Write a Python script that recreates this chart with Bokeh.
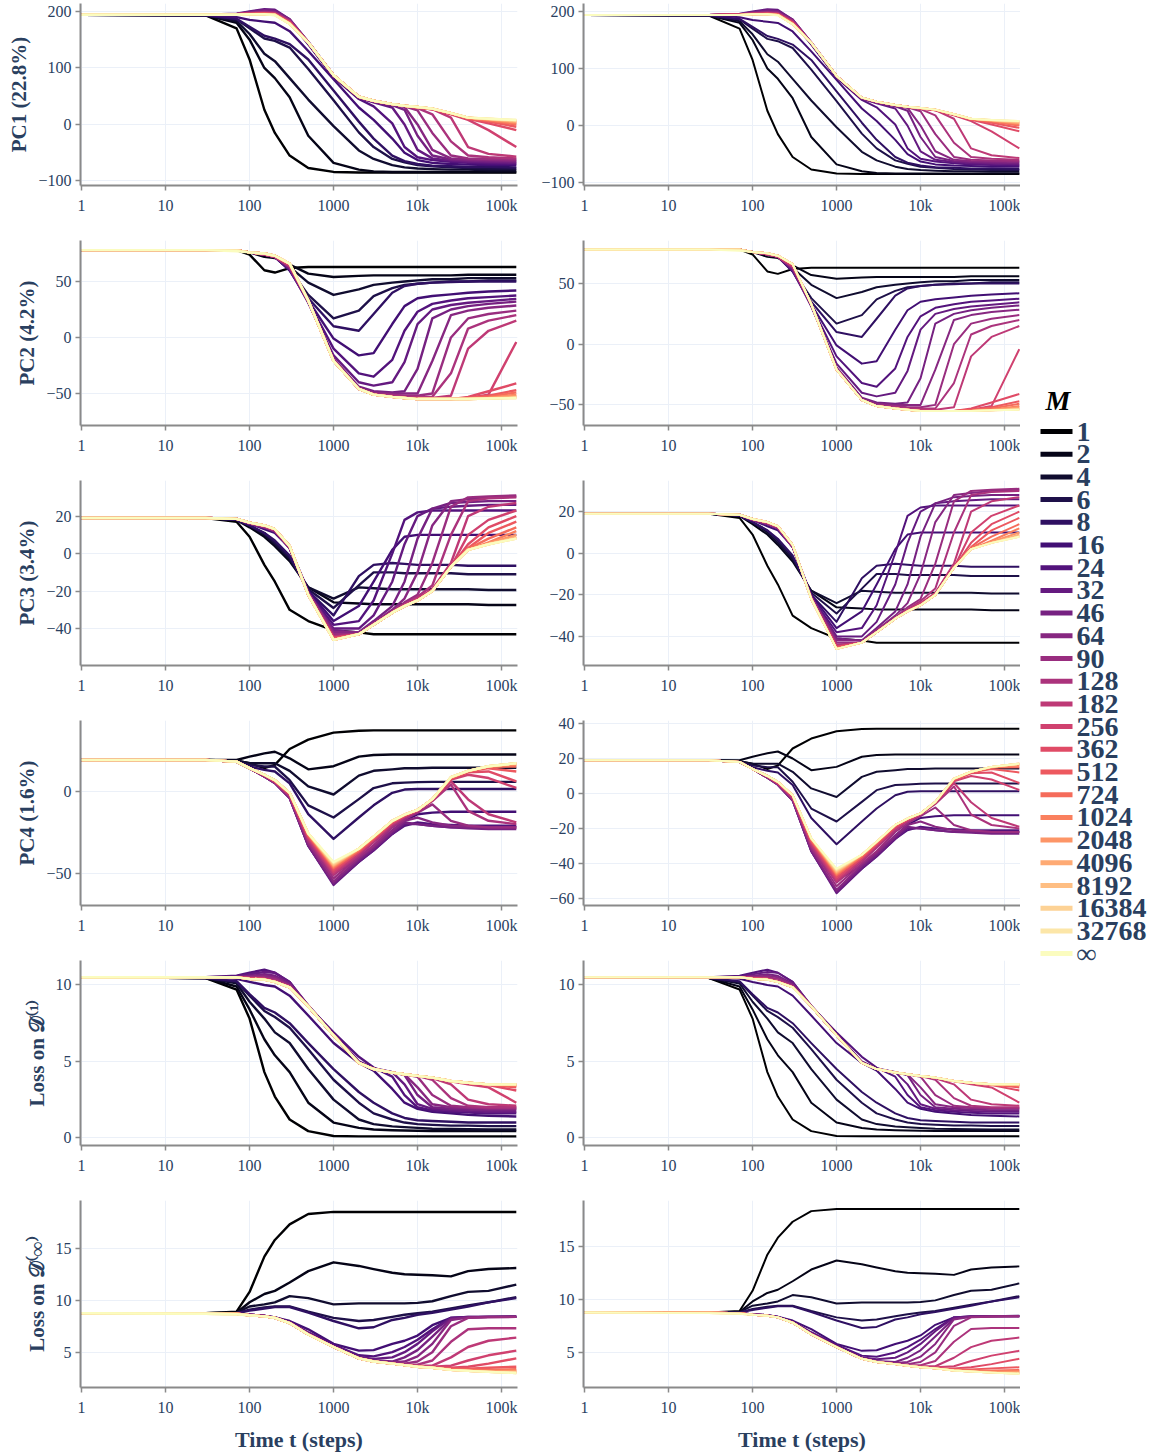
from bokeh.plotting import figure
from bokeh.models import Range1d, FixedTicker, CustomJSTickFormatter
from bokeh.layouts import row, column
from bokeh.palettes import magma
from bokeh.core.properties import value
from bokeh.embed import file_html
from bokeh.resources import INLINE

M_LABELS = ["1", "2", "4", "6", "8", "16", "24", "32", "46", "64", "90", "128", "182", "256",
            "362", "512", "724", "1024", "2048", "4096", "8192", "16384", "32768", "∞"]
TIMES = [1, 30, 70, 100, 150, 200, 300, 500, 1000, 2000, 3000, 5000, 7000, 10000, 15000,
         25000, 40000, 70000, 150000]

pc1 = [
    [194, 193, 170, 115, 26, -15, -55, -77, -84, -85, -85, -85, -85, -85, -85, -85, -85, -85, -85],
    [194, 193, 180, 150, 100, 82, 48, -20, -68, -80, -83, -84, -84, -84, -84, -84, -84, -84, -84],
    [194, 193, 183, 160, 125, 112, 82, 44, -3, -46, -61, -72, -76, -78, -79, -80, -80, -81, -81],
    [194, 193, 186, 170, 152, 148, 136, 98, 43, -14, -40, -61, -67, -72, -74, -76, -77, -78, -78],
    [194, 193, 187, 173, 157, 152, 142, 115, 60, 5, -25, -55, -65, -70, -73, -74, -75, -75, -76],
    [194, 194, 190, 185, 182, 180, 165, 130, 80, 30, 8, -25, -50, -63, -68, -70, -71, -72, -72],
    [194, 194, 195, 198, 202, 200, 182, 142, 84, 45, 32, 2, -40, -58, -63, -66, -68, -69, -70],
    [194, 194, 196, 200, 204, 203, 186, 146, 86, 47, 39, 30, 0, -45, -60, -64, -66, -67, -68],
    [194, 194, 195, 199, 202, 201, 186, 146, 87, 48, 40, 34, 26, -20, -55, -62, -64, -65, -66],
    [194, 194, 195, 198, 200, 199, 185, 146, 87, 48, 41, 35, 31, 0, -45, -60, -62, -63, -64],
    [194, 194, 195, 197, 199, 198, 184, 145, 87, 48, 41, 35, 32, 25, -15, -55, -60, -61, -62],
    [194, 194, 195, 197, 198, 197, 183, 145, 87, 49, 42, 36, 33, 29, 18, -30, -55, -58, -60],
    [194, 194, 195, 196, 197, 196, 182, 145, 87, 49, 42, 36, 33, 30, 27, 12, -40, -52, -57],
    [194, 194, 195, 196, 197, 196, 181, 145, 87, 49, 42, 36, 33, 30, 27, 18, 8, -10, -40],
    [194, 194, 195, 196, 196, 195, 180, 145, 87, 49, 42, 36, 33, 30, 27, 19, 10, 2, -10],
    [194, 194, 194, 195, 196, 195, 180, 145, 87, 49, 42, 36, 33, 30, 28, 19, 11, 5, -4],
    [194, 194, 194, 195, 196, 195, 179, 145, 87, 49, 42, 36, 33, 31, 28, 20, 11, 7, 0],
    [194, 194, 194, 195, 195, 194, 179, 145, 87, 49, 42, 36, 33, 31, 28, 20, 12, 8, 2],
    [194, 194, 194, 195, 195, 194, 178, 145, 87, 49, 42, 36, 33, 31, 28, 20, 12, 9, 4],
    [194, 194, 194, 195, 195, 194, 178, 145, 87, 49, 42, 36, 33, 31, 28, 20, 12, 9, 5],
    [194, 194, 194, 195, 195, 194, 178, 145, 87, 49, 42, 36, 33, 31, 28, 20, 12, 9.5, 6],
    [194, 194, 194, 195, 195, 194, 178, 145, 87, 49, 42, 36, 33, 31, 28, 20, 12, 10, 7],
    [194, 194, 194, 195, 195, 194, 178, 145, 87, 49, 42, 36, 33, 31, 28, 20, 12, 10, 8],
    [194, 194, 194, 195, 195, 193, 178, 145, 87, 49, 42, 36, 33, 31, 28, 20, 12, 10, 8],
]

pc2 = [
    [78, 78, 78, 74, 60, 58, 62, 63, 63, 63, 63, 63, 63, 63, 63, 63, 63, 63, 63],
    [78, 78, 78, 76, 72, 71, 65, 57, 54, 55, 55.5, 55.5, 55.5, 55.5, 55.5, 55.5, 56, 56, 56],
    [78, 78, 78, 76, 74, 72, 63, 49, 38, 43, 47, 49, 50, 51, 52, 52, 53, 53, 53],
    [78, 78, 78, 76, 74, 72, 61, 38, 17, 24, 37, 44, 47, 48, 49, 50, 50, 51, 51],
    [78, 78, 78, 76, 74, 72, 60, 35, 10, 6, 21, 40, 46, 48, 49, 49.5, 50, 50, 50],
    [78, 78, 78, 76, 74, 72, 60, 33, -1, -16, -14, 12, 28, 35, 37, 38.5, 40, 41, 42],
    [78, 78, 78, 76, 74, 72, 61, 32, -10, -32, -35, -20, 6, 23, 30, 33, 35, 36, 37.5],
    [78, 78, 78, 76, 74, 72, 61, 31, -16, -40, -43, -40, -22, 12, 25, 29, 31, 32.5, 34.5],
    [78, 78, 78, 76, 74, 72, 62, 32, -19, -44, -48, -49, -48, -28, 17, 25, 28, 30, 32],
    [78, 78, 78, 76, 74, 72, 63, 32, -20, -45, -49, -50, -50, -50, -21, 20, 24, 26.5, 28.5],
    [78, 78, 78, 76, 74, 72, 63, 33, -20, -46, -50, -51, -52, -52, -50, 0, 17, 21, 24],
    [78, 78, 78, 76, 74, 72, 64, 33, -20, -46, -51, -52, -53, -53, -53, -32, 8, 15, 20],
    [78, 78, 78, 76, 74, 72, 64, 33, -21, -46, -51, -53, -54, -54, -54, -52, -10, 6, 15],
    [78, 78, 78, 76, 75, 73, 65, 33, -21, -46, -51, -53, -54, -55, -55, -55, -54, -51, -4],
    [78, 78, 78, 76, 75, 73, 65, 33, -21, -46, -51, -53, -54, -55, -55, -55, -53, -48, -41],
    [78, 78, 78, 76, 75, 73, 66, 33, -21, -46, -51, -53, -54, -55, -55, -55, -54, -52, -47],
    [78, 78, 78, 76, 75, 73, 66, 33, -21, -46, -51, -53, -54, -55, -55, -55, -54.5, -53, -49],
    [78, 78, 78, 76, 75, 73, 66, 33, -21, -46, -51, -53, -54, -55, -55, -55, -55, -54, -51],
    [78, 78, 78, 76, 75, 73, 66, 33, -21, -46, -51, -53, -54, -55, -55, -55, -55, -54, -52],
    [78, 78, 78, 76, 75, 73, 66, 33, -21, -46, -51, -53, -54, -55, -55, -55, -55, -54.5, -53],
    [78, 78, 78, 76, 75, 73, 66, 33, -21, -46, -51, -53, -54, -55, -55, -55, -55, -54.5, -53.5],
    [78, 78, 78, 76, 75, 73, 66, 33, -21, -46, -51, -53, -54, -55, -55, -55, -55, -54.5, -54],
    [78, 78, 78, 76, 75, 73, 66, 33, -21, -46, -51, -53, -54, -55, -55, -55, -55, -54.5, -54],
    [78, 78, 77, 76, 75, 73, 66, 33, -21, -46, -51, -53, -54, -55, -55, -55, -55, -54.5, -54],
]

pc3 = [
    [19, 19, 17, 9, -6, -15, -30, -36, -41, -42, -43, -43, -43, -43, -43, -43, -43, -43, -43],
    [19, 19, 18, 14, 9, 4, -4, -18, -26, -26.6, -27, -27, -27, -27, -27, -27, -27, -27.4, -27.4],
    [19, 19, 18, 15, 10, 5, -3, -18, -24, -18, -18.5, -19, -19, -19, -19, -19, -19, -19.4, -19.4],
    [19, 19, 18, 15, 11, 6, -2, -19, -29, -17, -10, -10, -10.5, -10.5, -10.5, -10.5, -11, -11, -11],
    [19, 19, 18, 15, 11, 7, -1, -20, -33, -12, -6, -5, -5.5, -6, -6, -6, -6.5, -6.5, -6.5],
    [19, 19, 18.5, 16, 13, 11, 3, -20, -36, -28, -15, 2, 9, 10, 10, 10, 10, 10, 10],
    [19, 19, 18.5, 16, 14, 12, 3, -21, -38, -36, -25, 0, 18, 22, 23, 23, 23, 23, 23],
    [19, 19, 18.5, 16, 14, 12, 3, -21, -40, -40, -33, -15, 5, 20, 24, 25, 25.5, 26, 26],
    [19, 19, 18.5, 16, 14, 12, 3, -21, -41, -42, -36, -28, -15, 8, 24, 27, 27.5, 28, 28],
    [19, 19, 18.5, 16, 14, 12, 3, -21, -42, -42, -37, -30, -24, -10, 15, 28, 29, 30, 30.5],
    [19, 19, 18.5, 16.5, 14.5, 12.5, 3.5, -21, -43, -43, -37, -31, -26, -22, -5, 25, 30, 30.5, 31],
    [19, 19, 18.5, 16.5, 14.5, 12.5, 3.5, -22, -44, -43, -38, -31, -27, -23, -17, 10, 28, 29.5, 30],
    [19, 19, 18.5, 16.5, 14.5, 12.5, 3.5, -22, -44.5, -43, -38, -31.5, -27.5, -24, -19, -5, 20, 25, 27],
    [19, 19, 18.5, 16.5, 15, 13, 4, -22, -45, -43, -38, -31.5, -28, -24.5, -19.5, -7, 10, 18, 23],
    [19, 19, 18.5, 16.5, 15, 13, 4, -22, -45, -43, -38, -31.5, -28, -25, -20, -7, 5, 14, 20],
    [19, 19, 18.5, 16.5, 15, 13, 4, -22, -45.5, -43, -38, -31.5, -28, -25, -20, -7, 3, 11, 17],
    [19, 19, 18.5, 16.5, 15, 13, 4, -22, -46, -43, -38, -31.5, -28, -25, -20, -7, 2.5, 8, 14],
    [19, 19, 18.5, 16.5, 15, 13, 4, -22, -46, -43, -38, -31.5, -28, -25, -20, -7, 2, 6, 12],
    [19, 19, 18.5, 16.5, 15, 13, 4, -22, -46, -43, -38, -31.5, -28, -25, -20, -7, 2, 5.5, 10],
    [19, 19, 18.5, 16.5, 15, 13, 4, -22, -46, -43, -38, -31.5, -28, -25, -20, -7, 2, 5, 9],
    [19, 19, 18.5, 16.5, 15, 13, 4, -22, -46, -43, -38, -31.5, -28, -25, -20, -7, 2, 5, 8.5],
    [19, 19, 18.5, 16.5, 15, 13, 4, -22, -46, -43, -38, -31.5, -28, -25, -20, -7, 2, 5, 8],
    [19, 19, 18.5, 16.5, 15, 13, 4, -22, -46, -43, -38, -31.5, -28, -25, -20, -7, 2, 5, 8],
    [19, 19, 18.5, 16.5, 15, 13, 4, -22, -46, -43, -38, -31.5, -28, -25, -20, -7, 2, 5, 8],
]

pc4 = [
    [19, 19, 18.5, 17, 14, 16, 25.7, 31.4, 35.6, 36.8, 37, 37, 37, 37, 37, 37, 37, 37, 37],
    [19, 19, 19, 21, 23, 24, 20, 13.3, 15.2, 21, 22, 22.3, 22.3, 22.3, 22.3, 22.3, 22.3, 22.3, 22.3],
    [19, 19, 18.5, 17, 17, 17, 12.4, 2.9, -2, 9.5, 12.4, 13.3, 14, 14, 14.3, 14.3, 14.3, 14.3, 14.3],
    [19, 19, 18, 16, 15, 15, 6.7, -8.6, -16, -4.8, 1.9, 4.8, 5.2, 5.5, 5.7, 5.7, 5.7, 5.7, 5.7],
    [19, 19, 18, 15, 13, 12, 4.8, -14, -29, -16, -8.6, -1, 1, 1.3, 1.3, 1.3, 1.3, 1.3, 1.3],
    [19, 19, 18, 14, 9, 6, -3, -32, -50, -41, -34, -24, -18, -14, -13, -12.5, -12.5, -12.5, -12.5],
    [19, 19, 18, 14, 9, 5, -4, -33, -56, -43, -36, -26, -21, -19, -20, -20.5, -21, -21, -21],
    [19, 19, 18, 14, 9, 5, -4, -33, -57, -43, -36, -26, -20, -20, -21, -22, -22, -22, -22],
    [19, 19, 18, 14, 9, 5, -4, -33, -56, -42, -35, -25, -19, -20, -21, -22, -22.5, -23, -23],
    [19, 19, 18, 14, 9, 5, -4, -32, -55, -41, -34, -24, -18, -16, -19, -21, -21.5, -22, -22],
    [19, 19, 18, 14, 9.5, 5.5, -3, -31, -53, -40, -33, -22, -17, -13, -8, -18, -21, -22, -22],
    [19, 19, 18, 14, 9.5, 5.5, -3, -30, -51, -39, -31, -21, -16, -12, -6, 4, -12, -18, -20],
    [19, 19, 18, 14, 9.5, 6, -2, -29, -50, -38, -30, -20, -15.5, -12, -5.5, 6, -5, -14, -19],
    [19, 19, 18, 14, 10, 6, -2, -28, -49, -37, -29.5, -19.5, -15, -11.5, -5, 7, 10, 8, 2],
    [19, 19, 18, 14, 10, 6, -1.5, -27.5, -48, -37, -29, -19, -15, -11.5, -5, 7.5, 11.5, 12, 6],
    [19, 19, 18, 14, 10, 6.5, -1.5, -27, -47, -36, -28.5, -18.5, -14.5, -11.5, -5, 8, 12, 14, 12],
    [19, 19, 18, 14, 10, 6.5, -1, -26.5, -46.5, -36, -28, -18.3, -14.4, -11.4, -5, 8, 12.2, 14.8, 15],
    [19, 19, 18, 14, 10, 6.7, -1, -26, -46, -35.5, -28, -18, -14.3, -11.4, -4.8, 8.3, 12.3, 15, 16],
    [19, 19, 18, 14, 10, 6.7, -1, -26, -45.5, -35, -27.8, -18, -14.3, -11.4, -4.8, 8.4, 12.4, 15.1, 16.5],
    [19, 19, 18, 14, 10, 6.7, -1, -25.8, -45, -35, -27.6, -18, -14.3, -11.4, -4.8, 8.5, 12.4, 15.2, 17],
    [19, 19, 18, 14, 10, 6.7, -1, -25.7, -44.5, -35, -27.6, -18, -14.3, -11.4, -4.8, 8.5, 12.4, 15.2, 17],
    [19, 19, 18, 14, 10, 6.7, -1, -25.7, -44, -35, -27.6, -18, -14.3, -11.4, -4.8, 8.5, 12.4, 15.2, 17],
    [19, 19, 18, 14, 10, 6.7, -1, -25.7, -43.5, -35, -27.6, -18, -14.3, -11.4, -4.8, 8.5, 12.4, 15.2, 17],
    [19, 19, 18, 14, 10, 6.7, -1, -25.7, -43, -35, -27.6, -18, -14.3, -11.4, -4.8, 8.5, 12.4, 15.2, 17],
]

loss_d1 = [
    [10.5, 10.45, 9.7, 7.8, 4.3, 2.7, 1.2, 0.44, 0.12, 0.1, 0.1, 0.1, 0.1, 0.1, 0.1, 0.1, 0.1, 0.1, 0.1],
    [10.5, 10.45, 9.9, 8.4, 6.45, 5.4, 4.3, 2.3, 1.0, 0.65, 0.55, 0.5, 0.48, 0.46, 0.45, 0.45, 0.45, 0.45, 0.45],
    [10.5, 10.45, 10.1, 8.9, 7.8, 6.9, 6.2, 4.5, 2.5, 1.2, 0.9, 0.75, 0.7, 0.65, 0.6, 0.58, 0.56, 0.55, 0.55],
    [10.5, 10.45, 10.2, 9.3, 8.3, 7.9, 7.2, 5.8, 3.8, 2.3, 1.6, 1.2, 1.0, 0.9, 0.85, 0.8, 0.8, 0.77, 0.77],
    [10.5, 10.45, 10.25, 9.4, 8.5, 8.2, 7.5, 6.2, 4.5, 3.0, 2.3, 1.6, 1.3, 1.15, 1.1, 1.05, 1.0, 1.0, 1.0],
    [10.5, 10.5, 10.4, 10.2, 10.0, 9.9, 9.3, 8.0, 6.2, 4.9, 4.4, 3.2, 2.3, 1.9, 1.7, 1.6, 1.5, 1.45, 1.4],
    [10.5, 10.5, 10.6, 10.8, 11.0, 10.8, 10.2, 8.6, 6.9, 5.3, 4.6, 4.0, 2.8, 2.0, 1.8, 1.7, 1.65, 1.6, 1.6],
    [10.5, 10.5, 10.55, 10.7, 10.85, 10.8, 10.2, 8.65, 6.8, 5.0, 4.55, 4.3, 3.5, 2.2, 1.9, 1.8, 1.75, 1.7, 1.7],
    [10.5, 10.5, 10.5, 10.6, 10.7, 10.6, 10.1, 8.65, 6.75, 4.95, 4.5, 4.3, 4.1, 2.8, 2.0, 1.9, 1.85, 1.8, 1.8],
    [10.5, 10.5, 10.5, 10.55, 10.6, 10.5, 10.0, 8.6, 6.7, 4.9, 4.5, 4.27, 4.15, 3.3, 2.2, 2.0, 1.95, 1.9, 1.9],
    [10.5, 10.5, 10.5, 10.5, 10.5, 10.4, 9.95, 8.6, 6.7, 4.9, 4.5, 4.27, 4.16, 4.0, 2.8, 2.1, 2.0, 1.95, 1.95],
    [10.5, 10.5, 10.5, 10.45, 10.4, 10.3, 9.9, 8.6, 6.7, 4.9, 4.5, 4.27, 4.16, 4.05, 3.8, 2.6, 2.1, 2.0, 2.0],
    [10.5, 10.5, 10.5, 10.45, 10.4, 10.25, 9.9, 8.6, 6.7, 4.9, 4.5, 4.27, 4.16, 4.05, 3.9, 3.5, 2.5, 2.2, 2.1],
    [10.5, 10.5, 10.5, 10.45, 10.4, 10.2, 9.85, 8.6, 6.7, 4.9, 4.5, 4.27, 4.16, 4.05, 3.94, 3.7, 3.5, 3.3, 2.3],
    [10.5, 10.5, 10.5, 10.45, 10.4, 10.2, 9.85, 8.6, 6.7, 4.9, 4.5, 4.27, 4.16, 4.05, 3.94, 3.72, 3.6, 3.45, 3.1],
    [10.5, 10.5, 10.5, 10.4, 10.35, 10.2, 9.85, 8.6, 6.7, 4.9, 4.5, 4.27, 4.16, 4.05, 3.94, 3.72, 3.6, 3.48, 3.3],
    [10.5, 10.5, 10.5, 10.4, 10.35, 10.2, 9.85, 8.6, 6.7, 4.9, 4.5, 4.27, 4.16, 4.05, 3.94, 3.72, 3.6, 3.5, 3.4],
    [10.5, 10.5, 10.5, 10.4, 10.35, 10.2, 9.85, 8.6, 6.7, 4.9, 4.5, 4.27, 4.16, 4.05, 3.94, 3.72, 3.6, 3.5, 3.45],
    [10.5, 10.5, 10.5, 10.4, 10.35, 10.2, 9.85, 8.6, 6.7, 4.9, 4.5, 4.27, 4.16, 4.05, 3.94, 3.72, 3.6, 3.5, 3.47],
    [10.5, 10.5, 10.5, 10.4, 10.35, 10.2, 9.85, 8.6, 6.7, 4.9, 4.5, 4.27, 4.16, 4.05, 3.94, 3.72, 3.6, 3.5, 3.5],
    [10.5, 10.5, 10.5, 10.4, 10.35, 10.2, 9.85, 8.6, 6.7, 4.9, 4.5, 4.27, 4.16, 4.05, 3.94, 3.72, 3.6, 3.5, 3.5],
    [10.5, 10.5, 10.5, 10.4, 10.35, 10.2, 9.85, 8.6, 6.7, 4.9, 4.5, 4.27, 4.16, 4.05, 3.94, 3.72, 3.6, 3.5, 3.5],
    [10.5, 10.5, 10.5, 10.4, 10.35, 10.2, 9.85, 8.6, 6.7, 4.9, 4.5, 4.27, 4.16, 4.05, 3.94, 3.72, 3.6, 3.5, 3.5],
    [10.5, 10.5, 10.5, 10.4, 10.35, 10.2, 9.85, 8.6, 6.7, 4.9, 4.5, 4.27, 4.16, 4.05, 3.94, 3.72, 3.6, 3.5, 3.5],
]

loss_dinf = [
    [8.75, 8.75, 8.9, 10.8, 14.2, 15.8, 17.3, 18.3, 18.5, 18.5, 18.5, 18.5, 18.5, 18.5, 18.5, 18.5, 18.5, 18.5, 18.5],
    [8.75, 8.75, 8.8, 9.8, 10.6, 10.9, 11.7, 12.8, 13.65, 13.3, 13.0, 12.65, 12.5, 12.45, 12.4, 12.3, 12.8, 13.0, 13.1],
    [8.75, 8.75, 8.8, 9.4, 9.6, 9.8, 10.4, 10.2, 9.6, 9.7, 9.7, 9.7, 9.7, 9.75, 9.9, 10.4, 10.8, 10.9, 11.5],
    [8.75, 8.75, 8.75, 9.1, 9.3, 9.4, 9.4, 8.9, 8.3, 8.0, 8.1, 8.4, 8.6, 8.75, 8.9, 9.2, 9.5, 9.8, 10.3],
    [8.75, 8.75, 8.75, 9.0, 9.2, 9.35, 9.35, 8.8, 8.0, 7.3, 7.4, 8.1, 8.3, 8.6, 8.8, 9.1, 9.4, 9.8, 10.2],
    [8.75, 8.75, 8.7, 8.6, 8.5, 8.35, 8.0, 7.2, 5.8, 5.15, 5.2, 5.8, 6.1, 6.6, 7.6, 8.3, 8.35, 8.4, 8.45],
    [8.75, 8.75, 8.7, 8.6, 8.5, 8.35, 7.9, 6.9, 5.7, 4.7, 4.6, 5.0, 5.5, 6.2, 7.2, 8.3, 8.4, 8.4, 8.4],
    [8.75, 8.75, 8.7, 8.6, 8.5, 8.35, 7.9, 6.85, 5.6, 4.55, 4.35, 4.5, 5.0, 5.8, 7.0, 8.3, 8.4, 8.4, 8.4],
    [8.75, 8.75, 8.7, 8.6, 8.5, 8.3, 7.85, 6.8, 5.55, 4.45, 4.2, 4.1, 4.5, 5.2, 6.5, 8.2, 8.35, 8.4, 8.4],
    [8.75, 8.75, 8.7, 8.6, 8.5, 8.3, 7.85, 6.8, 5.5, 4.4, 4.15, 4.0, 4.1, 4.6, 5.8, 8.1, 8.35, 8.4, 8.4],
    [8.75, 8.75, 8.7, 8.6, 8.5, 8.3, 7.8, 6.75, 5.5, 4.4, 4.1, 3.95, 3.9, 4.1, 5.0, 7.5, 8.3, 8.35, 8.4],
    [8.75, 8.75, 8.7, 8.55, 8.45, 8.3, 7.8, 6.7, 5.5, 4.4, 4.1, 3.9, 3.8, 3.8, 4.2, 6.0, 7.2, 7.3, 7.3],
    [8.75, 8.75, 8.7, 8.55, 8.45, 8.3, 7.8, 6.7, 5.5, 4.4, 4.1, 3.9, 3.75, 3.7, 3.7, 4.5, 5.5, 6.1, 6.4],
    [8.75, 8.75, 8.7, 8.55, 8.45, 8.3, 7.8, 6.7, 5.5, 4.4, 4.1, 3.9, 3.75, 3.65, 3.6, 3.7, 4.2, 4.7, 5.15],
    [8.75, 8.75, 8.7, 8.55, 8.45, 8.3, 7.8, 6.7, 5.5, 4.4, 4.1, 3.9, 3.75, 3.6, 3.5, 3.5, 3.6, 3.9, 4.4],
    [8.75, 8.75, 8.7, 8.55, 8.45, 8.3, 7.8, 6.7, 5.5, 4.4, 4.1, 3.9, 3.75, 3.6, 3.5, 3.4, 3.4, 3.5, 3.6],
    [8.75, 8.75, 8.7, 8.55, 8.45, 8.3, 7.8, 6.7, 5.5, 4.4, 4.1, 3.9, 3.75, 3.6, 3.5, 3.35, 3.3, 3.3, 3.35],
    [8.75, 8.75, 8.7, 8.55, 8.45, 8.3, 7.8, 6.7, 5.5, 4.4, 4.1, 3.9, 3.75, 3.6, 3.5, 3.3, 3.25, 3.2, 3.25],
    [8.75, 8.75, 8.7, 8.55, 8.45, 8.3, 7.8, 6.7, 5.5, 4.4, 4.1, 3.9, 3.75, 3.6, 3.5, 3.3, 3.2, 3.15, 3.15],
    [8.75, 8.75, 8.7, 8.55, 8.45, 8.3, 7.8, 6.7, 5.5, 4.4, 4.1, 3.9, 3.75, 3.6, 3.5, 3.3, 3.2, 3.1, 3.1],
    [8.75, 8.75, 8.7, 8.55, 8.45, 8.3, 7.8, 6.7, 5.5, 4.4, 4.1, 3.9, 3.75, 3.6, 3.5, 3.3, 3.2, 3.1, 3.05],
    [8.75, 8.7, 8.65, 8.55, 8.45, 8.3, 7.8, 6.7, 5.5, 4.4, 4.1, 3.9, 3.75, 3.6, 3.5, 3.3, 3.2, 3.1, 3.0],
    [8.75, 8.7, 8.65, 8.55, 8.45, 8.3, 7.8, 6.7, 5.5, 4.4, 4.1, 3.9, 3.75, 3.6, 3.5, 3.3, 3.2, 3.1, 3.0],
    [8.75, 8.7, 8.65, 8.55, 8.45, 8.3, 7.8, 6.7, 5.5, 4.4, 4.1, 3.9, 3.75, 3.6, 3.5, 3.3, 3.2, 3.1, 3.0],
]

Y_LABELS = ["PC1 (22.8%)", "PC2 (4.2%)", "PC3 (3.4%)", "PC4 (1.6%)",
            "Loss on 𝒟⁽¹⁾", "Loss on 𝒟⁽∞⁾"]
X_TICKS = [1, 10, 100, 1000, 10000, 100000]

PANELS = [pc1, pc2, pc3, pc4, loss_d1, loss_dinf]
# (left range, left ticks, right range, right ticks)
Y_SETUP = [
    ((-108, 214), [-100, 0, 100, 200], (-105, 214), [-100, 0, 100, 200]),
    ((-78.6, 86.6), [-50, 0, 50], (-67, 85.5), [-50, 0, 50]),
    ((-59.7, 39), [-40, -20, 0, 20], (-54, 35), [-40, -20, 0, 20]),
    ((-69.5, 43), [-50, 0], (-64, 41.7), [-60, -40, -20, 0, 20, 40]),
    ((-0.5, 11.6), [0, 5, 10], (-0.5, 11.6), [0, 5, 10]),
    ((1.6, 19.6), [5, 10, 15], (1.7, 19.3), [5, 10, 15]),
]

COLORS = magma(24)
FONT = "Liberation Serif"
TXT = "#2a3f5f"
AXC = "#8a8a8a"
GRID = "#ebf0f8"

x_fmt = CustomJSTickFormatter(code="""
if (tick >= 10000) { return (Math.round(tick / 1000)) + 'k'; }
return '' + Math.round(tick);
""")
y_fmt = CustomJSTickFormatter(code="""
if (tick < 0) { return '\u2212' + Math.abs(tick); }
return '' + tick;
""")


def make_panel(vals, yr, yticks, ylabel, is_left, ridx):
    top = 3 if ridx == 0 else 10
    fh = 182 if ridx == 0 else (187 if ridx == 5 else 185)
    bottom = 67 if ridx == 5 else 45
    p = figure(x_axis_type="log", x_range=Range1d(0.97, 155000), y_range=Range1d(*yr),
               frame_width=437, frame_height=fh,
               min_border_left=80 if is_left else 61, min_border_right=5 if is_left else 0,
               min_border_top=top, min_border_bottom=bottom,
               output_backend="svg", toolbar_location=None)
    p.outline_line_color = None
    p.background_fill_color = "white"
    p.border_fill_color = "white"
    for ax in (p.xaxis[0], p.yaxis[0]):
        ax.axis_line_color = AXC
        ax.axis_line_width = 2
        ax.major_tick_line_color = AXC
        ax.major_tick_line_width = 1.5
        ax.major_tick_out = 5
        ax.major_tick_in = 0
        ax.minor_tick_line_color = None
        ax.major_label_text_font = FONT
        ax.major_label_text_font_size = "16px"
        ax.major_label_text_color = TXT
        ax.axis_label_text_font = FONT
        ax.axis_label_text_font_style = "bold"
        ax.axis_label_text_font_size = "21px"
        ax.axis_label_text_color = TXT
    p.xaxis.ticker = FixedTicker(ticks=X_TICKS)
    p.xaxis.formatter = x_fmt
    p.xaxis.major_label_standoff = 6
    p.yaxis.ticker = FixedTicker(ticks=yticks)
    p.yaxis.formatter = y_fmt
    p.yaxis.major_label_standoff = 4
    if is_left:
        p.yaxis.axis_label = ylabel
        p.yaxis.axis_label_standoff = 4
    if ridx == 5:
        p.xaxis.axis_label = "Time t (steps)"
        p.xaxis.axis_label_standoff = 8
        p.xaxis.axis_label_text_font_size = "22px"
    p.xgrid.grid_line_color = GRID
    p.ygrid.grid_line_color = GRID
    p.xgrid.grid_line_width = 1
    p.ygrid.grid_line_width = 1
    lw = 2.4 if is_left else 2.0
    for i, ys in enumerate(vals):
        p.line(TIMES, ys, line_color=COLORS[i], line_width=lw, line_join="round")
    return p


rows = []
for ridx, vals in enumerate(PANELS):
    lyr, lyt, ryr, ryt = Y_SETUP[ridx]
    lp = make_panel(vals, lyr, lyt, Y_LABELS[ridx], True, ridx)
    rp = make_panel(vals, ryr, ryt, Y_LABELS[ridx], False, ridx)
    rows.append(row(lp, rp))

# Legend key drawn in a pixel-space panel to the right
LEG_W, LEG_H = 135, 1454
lf = figure(width=LEG_W, height=LEG_H, x_range=Range1d(0, LEG_W), y_range=Range1d(LEG_H, 0),
            min_border=0, output_backend="svg", toolbar_location=None)
lf.axis.visible = False
lf.grid.visible = False
lf.outline_line_color = None
lf.background_fill_color = "white"
lf.border_fill_color = "white"
ITEM_TOP, ITEM_STEP = 431, 22.7
key_y = [ITEM_TOP + ITEM_STEP * i for i in range(len(M_LABELS))]
lf.segment(x0=[20] * len(key_y), x1=[52] * len(key_y), y0=key_y, y1=key_y,
           line_color=COLORS, line_width=5)
lf.text(x=[56] * len(key_y), y=key_y, text=M_LABELS, text_font=value(FONT),
        text_font_style="bold", text_font_size="28px", text_color=TXT,
        text_baseline="middle", text_align="left")
lf.text(x=[25], y=[400], text=["M"], text_font=value(FONT), text_font_style="bold italic",
        text_font_size="28px", text_color="#000000", text_baseline="middle", text_align="left")

layout = row(column(*rows), lf)
open("out.html", "w").write(file_html(layout, INLINE))
